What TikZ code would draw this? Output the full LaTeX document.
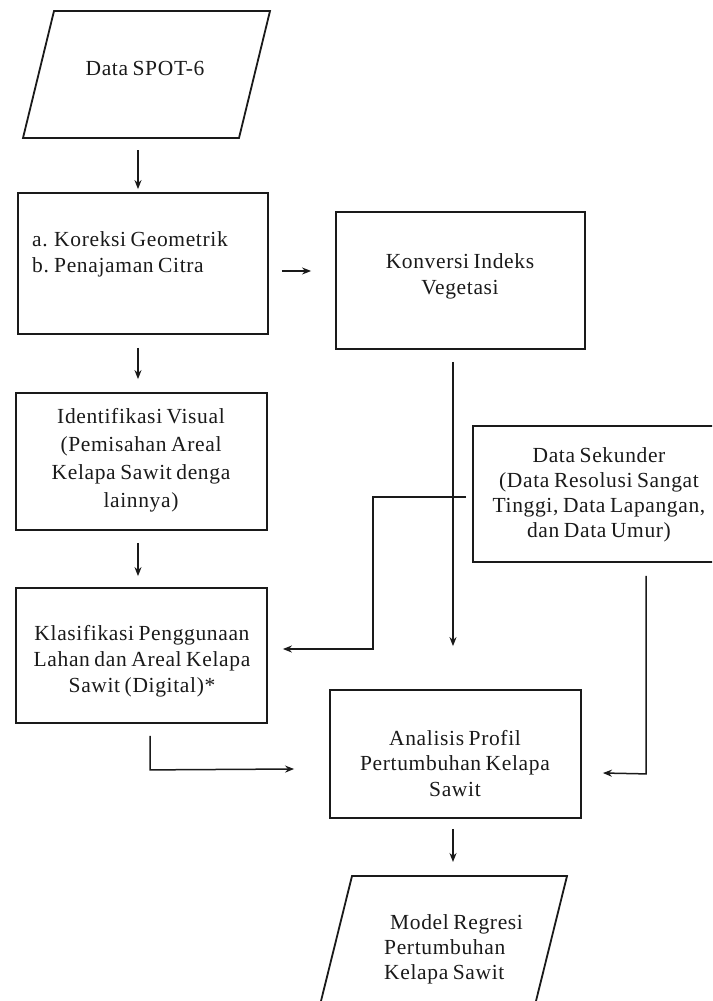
\documentclass[tikz,border=0pt]{standalone}
\usepackage{fontspec}
\setmainfont{Liberation Serif}[WordSpace=0.75,LetterSpace=3]
\usetikzlibrary{calc,arrows.meta}
\definecolor{ink}{HTML}{1A1A1A}
\begin{document}
\begin{tikzpicture}[x=1pt,y=-1pt,
  box/.style={draw=ink,line width=1.8pt,inner sep=0pt},
  shp/.style={draw=ink,line width=1.8pt,line join=miter},
  txt/.style={font=\fontsize{21.5pt}{26pt}\selectfont,align=center,inner sep=0pt,text=ink},
  arr/.style={draw=ink,line width=1.5pt,-{Stealth[length=9pt,width=7pt]}},
  link/.style={draw=ink,line width=1.5pt}]
\useasboundingbox (0,0) rectangle (712,1001);
\fill[white] (0,0) rectangle (712,1001);
\clip (0,0) rectangle (712,1001);

% input parallelogram
\draw[shp] (54,11) -- (270,11) -- (239,138) -- (23,138) -- cycle;
\node[txt] (data) at (145,68) {Data SPOT-6};
\coordinate (databot) at (138,138);

% boxes
\node[box,minimum width=250pt,minimum height=141pt] (koreksi) at (143,263.5) {};
\node[txt,anchor=west,align=left] (koreksitxt) at (32,254)
  {\makebox[22pt][l]{a.}Koreksi Geometrik\\\makebox[22pt][l]{b.}Penajaman Citra};

\node[box,minimum width=249pt,minimum height=137pt] (konversi) at (460.5,280.5) {};
\node[txt] (konversitxt) at (460,276) {Konversi Indeks\\Vegetasi};

\node[box,minimum width=251pt,minimum height=137pt] (ident) at (141.5,461.5) {};
\node[txt,font=\fontsize{21.5pt}{28pt}\selectfont] (identtxt) at (141,460)
  {Identifikasi Visual\\(Pemisahan Areal\\Kelapa Sawit denga\\lainnya)};

\node[box,minimum width=251pt,minimum height=135pt] (klas) at (141.5,655.5) {};
\node[txt] (klastxt) at (142,661)
  {Klasifikasi Penggunaan\\Lahan dan Areal Kelapa\\Sawit (Digital)*};

\node[box,minimum width=252pt,minimum height=136pt] (sekunder) at (599,494) {};
\node[txt,font=\fontsize{21.5pt}{25pt}\selectfont] (sekundertxt) at (599,495)
  {Data Sekunder\\(Data Resolusi Sangat\\Tinggi, Data Lapangan,\\dan Data Umur)};

\node[box,minimum width=251pt,minimum height=128pt] (analisis) at (455.5,754) {};
\node[txt,font=\fontsize{21.5pt}{25.5pt}\selectfont] (analisistxt) at (455,763.5)
  {Analisis Profil\\Pertumbuhan Kelapa\\Sawit};

% output parallelogram
\draw[shp] (352,876) -- (567,876) -- (535.5,1003) -- (320.5,1003) -- cycle;
\node[txt,anchor=west,align=left,font=\fontsize{21.5pt}{25pt}\selectfont] (model) at (384,949)
  {\hspace*{6pt}Model Regresi\\Pertumbuhan\\Kelapa Sawit};
\coordinate (modeltop) at (453,876);

% connectors
\draw[arr] ($(databot)+(0,12)$) -- ($(koreksi.north)+(-5,-3)$);
\draw[arr] ($(koreksi.east)+(13,7.5)$) -- ($(konversi.west)+(-24,-9.5)$);
\draw[arr] ($(koreksi.south)+(-5,13)$) -- ($(ident.north)+(-3.5,-13)$);
\draw[arr] ($(ident.south)+(-3.5,12)$) -- ($(klas.north)+(-3.5,-11)$);
\draw[arr] ($(konversi.south)+(-7.5,12)$) -- ($(analisis.north)+(-2.5,-43)$);
\draw[arr] ($(sekunder.west)+(-6,3)$) -- ++(-93,0) -- ++(0,152) -- ($(klas.east)+(15,-6.5)$);
\draw[arr] ($(klas.south)+(8.5,12)$) -- ++(0,34) -- ($(analisis.west)+(-35,15)$);
\draw[arr] ($(sekunder.south)+(47,13)$) -- ++(0,198) -- ($(analisis.east)+(21,19)$);
\draw[arr] ($(analisis.south)+(-2.5,10)$) -- ($(modeltop)+(0,-14)$);
\end{tikzpicture}
\end{document}
